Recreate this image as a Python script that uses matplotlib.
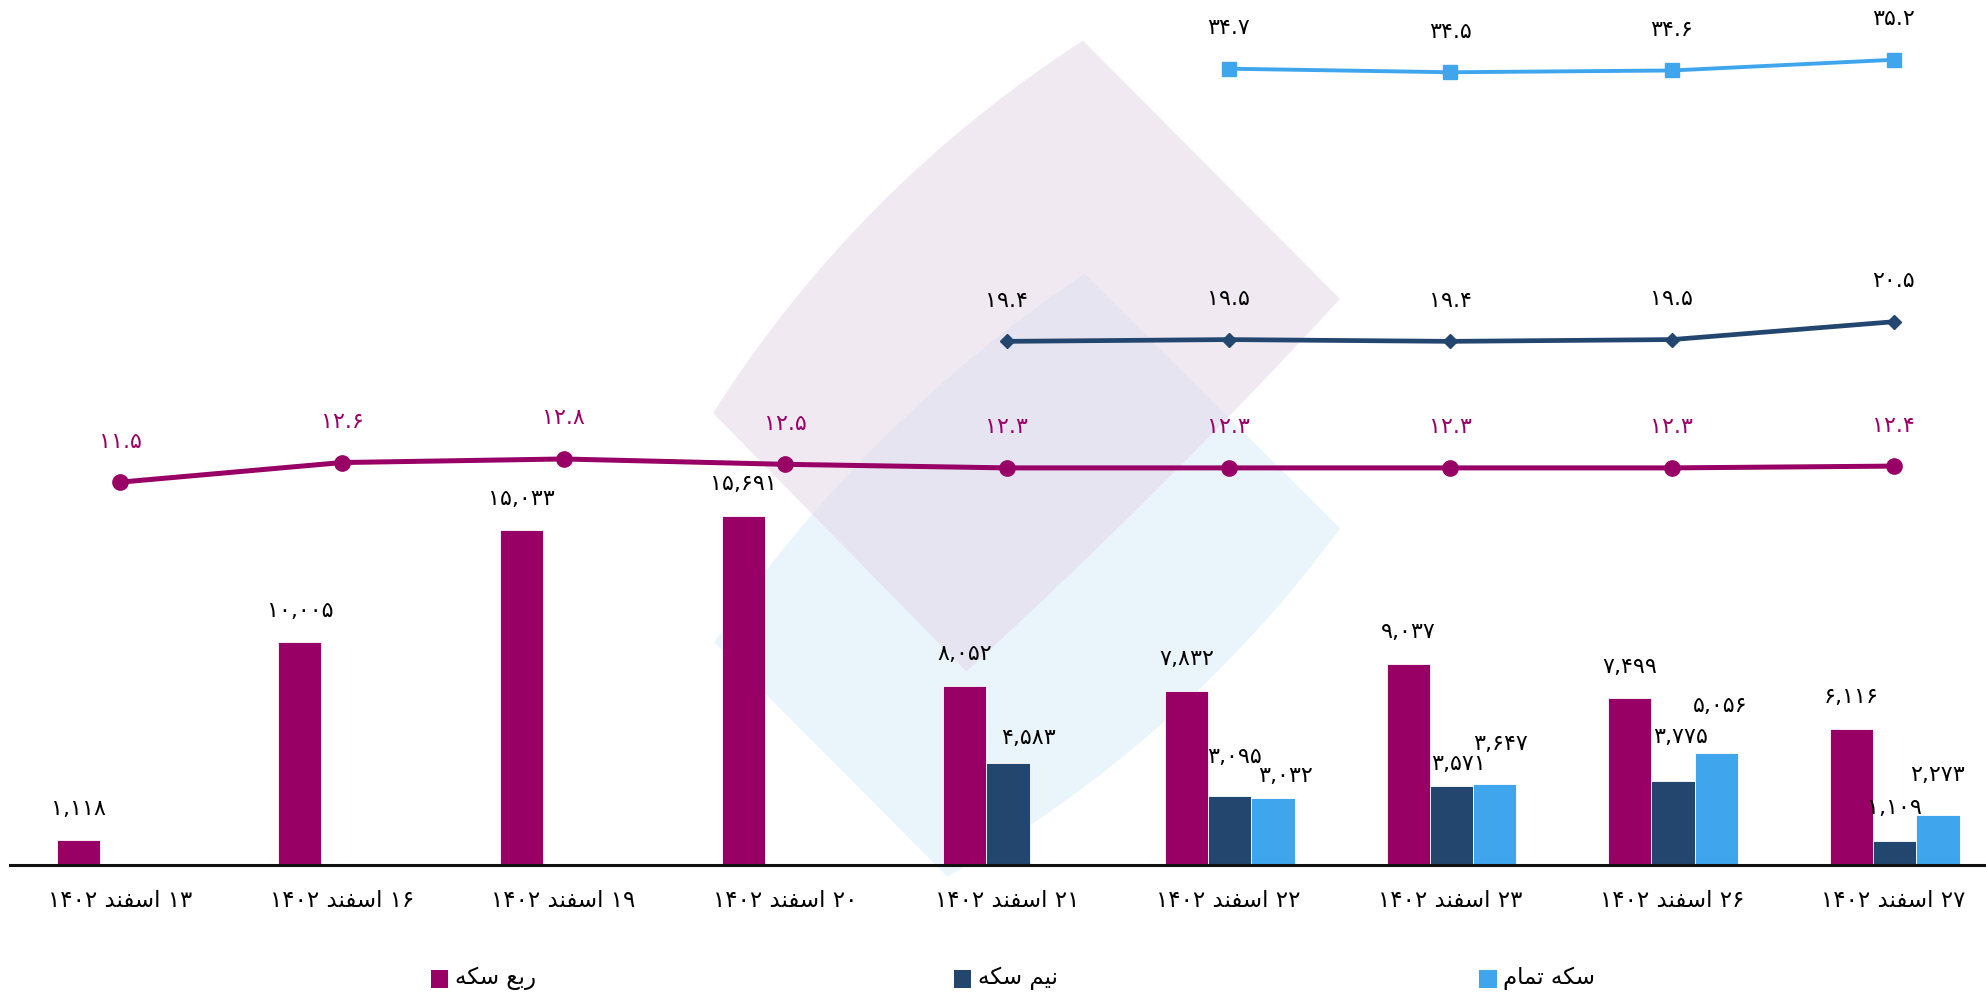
import matplotlib
matplotlib.use("Agg")
import matplotlib.pyplot as plt
from matplotlib.patches import PathPatch, Rectangle
from matplotlib.path import Path
import numpy as np

# روزها (اسفند ۱۴۰۲)
days = [13, 16, 19, 20, 21, 22, 23, 26, 27]

# حجم معاملات (ستون ها)
rob_vol = [1118, 10005, 15033, 15691, 8052, 7832, 9037, 7499, 6116]
nim_vol = [None, None, None, None, 4583, 3095, 3571, 3775, 1109]
tamam_vol = [None, None, None, None, None, 3032, 3647, 5056, 2273]

# قیمت (خط ها)
rob_price = [11.5, 12.6, 12.8, 12.5, 12.3, 12.3, 12.3, 12.3, 12.4]
nim_price = [None, None, None, None, 19.4, 19.5, 19.4, 19.5, 20.5]
tamam_price = [None, None, None, None, None, 34.7, 34.5, 34.6, 35.2]

# متن فارسی با حروف شکل‌دار (ترتیب نمایشی چپ به راست)
ESFAND = "\uFEAA\uFEE8\uFED4\uFEB3\uFE8D"     # اسفند
SEKKE = "\uFEEA\uFB91\uFEB3"                   # سکه
ROB = "\uFECA\uFE91\uFEAD"                     # ربع
NIM = "\uFEE2\uFBFF\uFEE7"                     # نیم
TAMAM = "\uFEE1\uFE8E\uFEE4\uFE97"             # تمام
series_names = [SEKKE + " " + ROB, SEKKE + " " + NIM, TAMAM + " " + SEKKE]

PURPLE = "#990066"
NAVY = "#23466e"
BLUE = "#3fa6ee"
colors = [PURPLE, NAVY, BLUE]

FA = str.maketrans("0123456789", "۰۱۲۳۴۵۶۷۸۹")

# جابجایی برچسب ها برای جلوگیری از هم پوشانی (dx, dy بر حسب پیکسل تصویر)
nudge = {
    (1, 4): (16, 20), (1, 5): (4, 31), (1, 6): (6, 17), (1, 7): (6, 35), (1, 8): (0, 26),
    (2, 5): (10, 17), (2, 6): (5, 32), (2, 7): (3, 37), (2, 8): (0, 31),
}


def fa(s):
    return str(s).translate(FA)


def main():
    plt.rcParams["font.family"] = ["DejaVu Sans"]
    fig = plt.figure(figsize=(19.86, 9.92), dpi=100)

    # واترمارک (لوگوی کم رنگ) - مختصات بر حسب کسر شکل
    W, H = 1568.0, 783.0
    PX = 0.912  # یک پیکسل تصویر مرجع بر حسب پوینت

    def fp(x, y):
        return (x / W, 1 - y / H)

    def shape(L, T, R, B, c1, c2, color, alpha):
        verts = [fp(*L), fp(*c1), fp(*T), fp(*R), fp(*c2), fp(*B), fp(*L), fp(*L)]
        codes = [Path.MOVETO, Path.CURVE3, Path.CURVE3, Path.LINETO,
                 Path.CURVE3, Path.CURVE3, Path.LINETO, Path.CLOSEPOLY]
        p = PathPatch(Path(verts, codes), facecolor=color, edgecolor="none", alpha=alpha,
                      transform=fig.transFigure, zorder=-2)
        fig.patches.append(p)

    shape((564, 507), (856, 216), (1058, 417), (748, 692),
          (680, 335), (935, 585), "#e9f5fb", 1.0)
    shape((563, 326), (855, 32), (1058, 236), (763, 530),
          (676, 148), (918, 388), "#e3d5e7", 0.5)

    ax = fig.add_axes([8 / W, 1 - 683 / H, 1 - 8 / W, (683 - 50) / H])
    ax.patch.set_alpha(0)
    ax2 = ax.twinx()
    ax2.patch.set_alpha(0)

    x = np.arange(len(days))
    w = 0.195
    vols = [rob_vol, nim_vol, tamam_vol]
    for i, (vals, col) in enumerate(zip(vols, colors)):
        idx = [k for k, v in enumerate(vals) if v is not None]
        xs = [x[k] + (i - 1) * w + 0.005 for k in idx]
        vs = [vals[k] for k in idx]
        ax.bar(xs, vs, width=w, color=col, edgecolor="white", linewidth=0.6, zorder=2)
        for k, xx, v in zip(idx, xs, vs):
            dx, dy = nudge.get((i, k), (0, 25))
            ax.annotate(fa(f"{v:,}"), (xx, v), xytext=(dx * PX, dy * PX),
                        textcoords="offset points", ha="center", va="center",
                        fontsize=16, color="black")

    prices = [rob_price, nim_price, tamam_price]
    markers = [("o", 11), ("D", 7.5), ("s", 9.5)]
    lws = [3.6, 3.4, 2.8]
    label_cols = [PURPLE, "black", "black"]
    for vals, col, (m, ms), lw, lc in zip(prices, colors, markers, lws, label_cols):
        xs = [xx for xx, v in zip(x, vals) if v is not None]
        vs = [v for v in vals if v is not None]
        ax2.plot(xs, vs, color=col, marker=m, markersize=ms, linewidth=lw,
                 clip_on=False, zorder=3)
        for xx, v in zip(xs, vs):
            ax2.annotate(fa(f"{v:.1f}"), (xx, v), xytext=(0, 32 * PX),
                         textcoords="offset points", ha="center", va="center",
                         fontsize=16, color=lc, annotation_clip=False)

    ax.set_xlim(-0.497, 8.417)
    ax.set_ylim(0, 36000)
    ax2.set_ylim(-10, 35)

    ax.set_xticks(x)
    ax.set_xticklabels(["۱۴۰۲ " + ESFAND + " " + fa(d) for d in days], fontsize=16.5)
    ax.tick_params(axis="x", length=0, pad=17)
    ax.set_yticks([])
    ax2.set_yticks([])
    for a in (ax, ax2):
        for s in ("top", "right", "left", "bottom"):
            a.spines[s].set_visible(False)
    ax.spines["bottom"].set_visible(True)
    ax.spines["bottom"].set_linewidth(2.2)
    ax.spines["bottom"].set_color("#111111")

    # راهنما
    leg_x = [347, 760, 1175]
    for lx, name, col in zip(leg_x, series_names, colors):
        fig.patches.append(Rectangle(fp(lx - 7, 780), 14 / W, 14 / H, facecolor=col,
                                     edgecolor="none", transform=fig.transFigure))
        fig.text((lx + 12) / W, 1 - 772 / H, name, fontsize=16.5, va="center", ha="left")

    fig.savefig("out.png", dpi=100)


if __name__ == "__main__":
    main()
